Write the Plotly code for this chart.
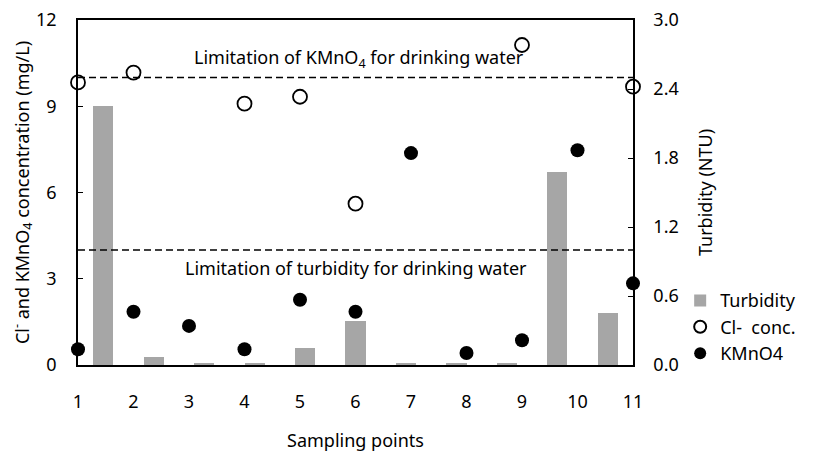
import plotly.graph_objects as go

points = [1, 2, 3, 4, 5, 6, 7, 8, 9, 10, 11]
turbidity = [2.25, 0.07, 0.01, 0.01, 0.15, 0.38, 0.01, 0.01, 0.01, 1.68, 0.45]
cl_points = [1, 2, 4, 5, 6, 9, 11]
cl_conc = [9.83, 10.17, 9.09, 9.33, 5.61, 11.13, 9.68]
kmno4 = [0.55, 1.85, 1.36, 0.55, 2.27, 1.85, 7.37, 0.42, 0.86, 7.47, 2.84]
kmno4_limit = 10.0
turbidity_limit = 1.0

FONT = "Noto Sans"

fig = go.Figure()
fig.add_trace(go.Bar(
    x=points, y=turbidity, name="Turbidity",
    marker=dict(color="#a6a6a6", line=dict(width=0)), width=0.4,
    xaxis="x", yaxis="y",
))
fig.add_trace(go.Scatter(
    x=cl_points, y=cl_conc, mode="markers", name="Cl-  conc.",
    marker=dict(symbol="circle-open", size=14, color="black", line=dict(width=1.8, color="black")),
    xaxis="x2", yaxis="y2", cliponaxis=False,
))
fig.add_trace(go.Scatter(
    x=points, y=kmno4, mode="markers", name="KMnO4",
    marker=dict(symbol="circle", size=14, color="black"),
    xaxis="x2", yaxis="y2", cliponaxis=False,
))

# limit lines (left axis units)
for yv in [kmno4_limit, turbidity_limit * 4]:
    fig.add_shape(type="line", xref="paper", x0=0, x1=1.005, yref="y2", y0=yv, y1=yv,
                  line=dict(color="black", width=1.6, dash="7px,4px"), layer="above")

fig.add_annotation(xref="paper", x=0.507, yref="y2", y=10.66, showarrow=False,
                   text="Limitation of KMnO<sub>4</sub> for drinking water",
                   font=dict(family=FONT, size=18, color="black"))
fig.add_annotation(xref="paper", x=0.5, yref="y2", y=3.39, showarrow=False,
                   text="Limitation of turbidity for drinking water",
                   font=dict(family=FONT, size=18, color="black"))

tick_font = dict(family=FONT, size=18, color="black")
title_font = dict(family=FONT, size=18, color="black")

# page body has an 8px margin, so the figure is drawn 8px in and 8px down
fig.update_layout(
    width=808, height=449,
    margin=dict(l=70, r=183, t=12, b=92, autoexpand=False),
    paper_bgcolor="white", plot_bgcolor="white",
    font=dict(family=FONT, color="black"),
    bargap=0,
    showlegend=True,
    legend=dict(x=1.085, y=0.24, xanchor="left", yanchor="top",
                font=dict(family=FONT, size=18, color="black"),
                bgcolor="rgba(0,0,0,0)", itemsizing="constant", tracegroupgap=0),
    xaxis=dict(range=[0.5, 11.5], visible=False, domain=[0, 1], automargin=False),
    xaxis2=dict(overlaying="x", anchor="y2", range=[1, 11], tickvals=points,
                ticktext=[str(p) for p in points], tickfont=tick_font,
                ticks="", ticklabelstandoff=20, showgrid=False, zeroline=False,
                showline=True, linecolor="black", linewidth=1.5, mirror=True, automargin=False,
                ticklabeloverflow="allow",
                title=dict(text="Sampling points", font=title_font, standoff=22)),
    yaxis=dict(side="right", range=[0, 3], tickvals=[0, 0.6, 1.2, 1.8, 2.4, 3.0],
               ticktext=["0.0", "0.6", "1.2", "1.8", "2.4", "3.0"], tickfont=tick_font,
               ticks="inside", ticklen=5, tickcolor="black", ticklabelstandoff=15,
               showgrid=False, zeroline=False, showline=True, linecolor="black", linewidth=1.5,
               automargin=False, ticklabeloverflow="allow",
               title=dict(text="Turbidity (NTU)", font=title_font, standoff=22)),
    yaxis2=dict(overlaying="y", side="left", anchor="x2", range=[0, 12], tickvals=[0, 3, 6, 9, 12],
                tickfont=tick_font, ticks="inside", ticklen=5, tickcolor="black",
                ticklabelstandoff=16, showgrid=False, zeroline=False, showline=True,
                linecolor="black", linewidth=1.5, automargin=False, ticklabeloverflow="allow",
                title=dict(text="Cl<sup>-</sup> and KMnO<sub>4</sub> concentration (mg/L)",
                           font=title_font, standoff=10)),
)

fig.write_html("out.html")
